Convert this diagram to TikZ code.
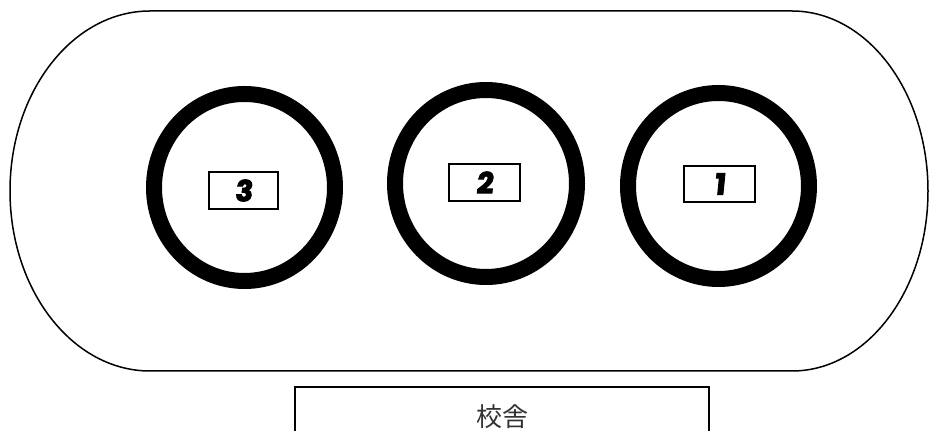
\documentclass[tikz,border=0pt]{standalone}
\usepackage{fontspec}
\newfontfamily\cjk{Noto Sans CJK JP}
\newfontfamily\numfont{Poppins}[BoldFont=* Bold, BoldFeatures={FakeBold=3.5, FakeSlant=0.1}]
\begin{document}
\begin{tikzpicture}[x=1pt,y=1pt,
  ring/.style={line width=16pt, draw=black},
  numbox/.style={draw=black, line width=2pt, fill=white, inner sep=0pt,
    font=\numfont\bfseries\fontsize{29}{29}\selectfont},
  track/.style={draw=black, line width=1.5pt}]
\useasboundingbox (0,0) rectangle (930,431);
% outer track
\draw[track] (150,420) -- (792,420)
  arc[start angle=90, end angle=-90, x radius=136, y radius=180]
  -- (150,60)
  arc[start angle=270, end angle=90, x radius=140, y radius=180] -- cycle;
% rings
\draw[ring] (244.5,243.5) ellipse[x radius=90.5, y radius=93.5];
\draw[ring] (486,247.5) ellipse[x radius=91, y radius=93.5];
\draw[ring] (718.5,245) ellipse[x radius=90.5, y radius=93];
% number boxes
\node[numbox, minimum width=69pt, minimum height=37pt] (b3) at (243.5,240.5) {3};
\node[numbox, minimum width=71pt, minimum height=37pt] (b2) at (484.5,248.5) {2};
\node[numbox, minimum width=71pt, minimum height=36pt] (b1) at (719.5,247) {1};
% school building
\node[draw=black, line width=2pt, minimum width=414pt, minimum height=54pt, inner sep=0pt] (school) at (502,17) {};
\node[font=\cjk\fontsize{26}{26}\selectfont, text=black!80, inner sep=0pt] (label) at (502,14) {校舎};
\end{tikzpicture}
\end{document}
